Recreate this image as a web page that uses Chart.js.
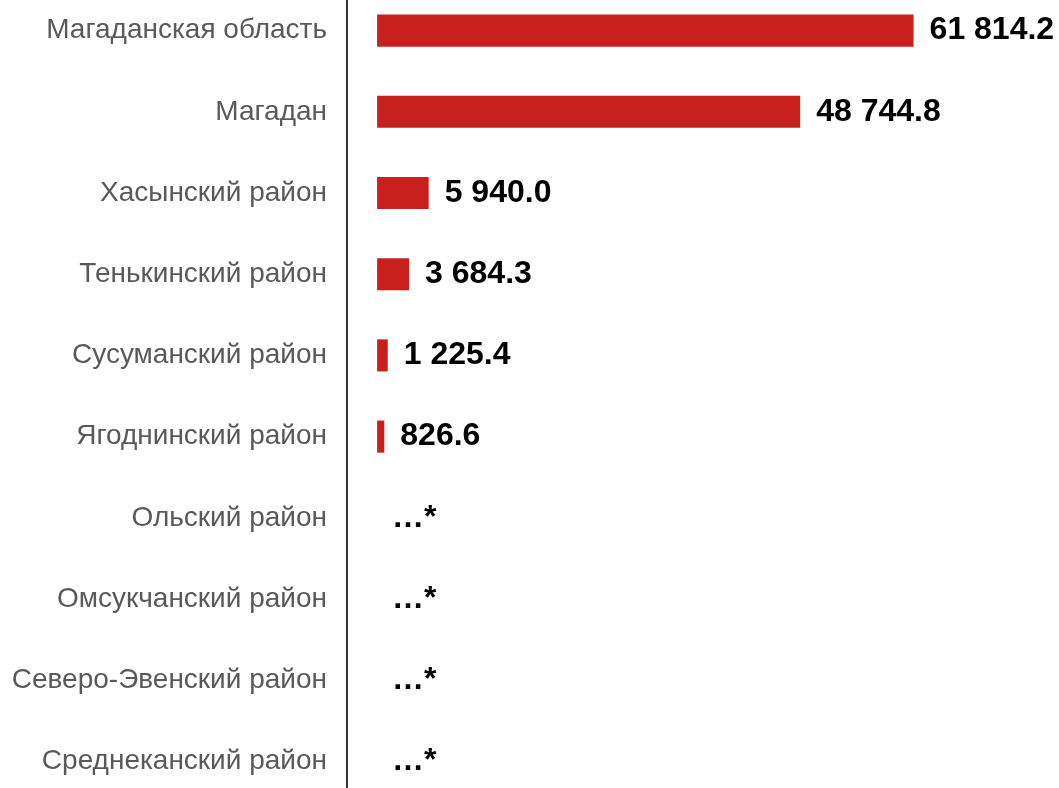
<!DOCTYPE html>
<html>
<head>
<meta charset="utf-8">
<script src="https://cdn.jsdelivr.net/npm/chart.js@4.4.0/dist/chart.umd.min.js"></script>
<style>
  html, body { margin: 0; padding: 0; background: #fff; overflow: hidden; }
  #wrap { width: 1059px; height: 812px; margin-top: -10px; }
</style>
</head>
<body>
<div id="wrap"><canvas id="myChart"></canvas></div>
<script>
const districts = [
  "Магаданская область",
  "Магадан",
  "Хасынский район",
  "Тенькинский район",
  "Сусуманский район",
  "Ягоднинский район",
  "Ольский район",
  "Омсукчанский район",
  "Северо-Эвенский район",
  "Среднеканский район"
];
// null = данные не публикуются ("…*")
const values = [61814.2, 48744.8, 5940.0, 3684.3, 1225.4, 826.6, null, null, null, null];
const hiddenMark = "…*";

function formatValue(v) {
  const parts = v.toFixed(1).split(".");
  return parts[0].replace(/\B(?=(\d{3})+(?!\d))/g, " ") + "." + parts[1];
}

const valueLabels = {
  id: "valueLabels",
  afterDatasetsDraw(chart) {
    const ctx = chart.ctx;
    const xScale = chart.scales.x;
    const yScale = chart.scales.y;
    ctx.save();
    ctx.font = "bold 32px 'Liberation Sans', Arial, sans-serif";
    ctx.fillStyle = "#000";
    ctx.textBaseline = "middle";
    ctx.textAlign = "left";
    values.forEach(function (v, i) {
      const y = yScale.getPixelForValue(i);
      if (v === null) {
        ctx.fillText(hiddenMark, xScale.getPixelForValue(0) + 15, y);
      } else {
        ctx.fillText(formatValue(v), xScale.getPixelForValue(v) + 16, y);
      }
    });
    ctx.restore();
  }
};

const ctx = document.getElementById("myChart").getContext("2d");
const myChart = new Chart(ctx, {
  type: "bar",
  data: {
    labels: districts,
    datasets: [
      {
        data: values,
        backgroundColor: "#C8201E",
        borderWidth: 0,
        barPercentage: 0.395,
        categoryPercentage: 1,
      },
    ],
  },
  options: {
    indexAxis: "y",
    responsive: true,
    maintainAspectRatio: false,
    animation: false,
    layout: {
      padding: 0,
    },
    plugins: {
      legend: { display: false },
      tooltip: { enabled: false },
    },
    scales: {
      x: {
        display: false,
        min: -3470,
        max: 78570,
      },
      y: {
        afterFit(scale) {
          scale.width = 347;
          scale.paddingTop = 0;
          scale.paddingBottom = 0;
        },
        grid: { display: false, drawTicks: false },
        border: { display: true, color: "#333", width: 2 },
        ticks: {
          color: "#595959",
          padding: 20,
          font: { family: "'Liberation Sans', Arial, sans-serif", size: 28 },
        },
      },
    },
  },
  plugins: [valueLabels],
});
</script>
</body>
</html>
